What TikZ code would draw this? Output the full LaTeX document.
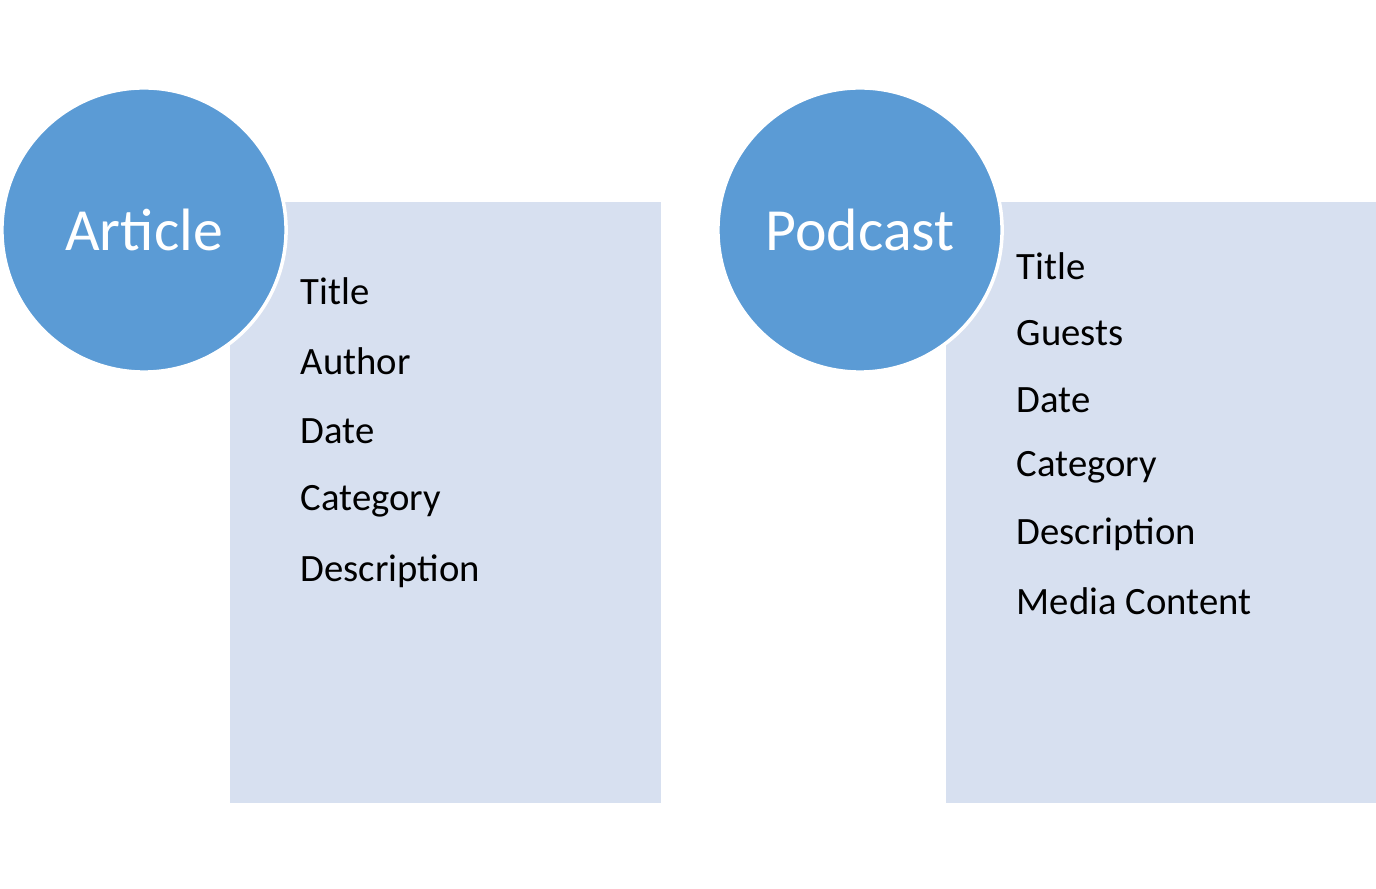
\documentclass[tikz,border=0pt]{standalone}
\usepackage{fontspec}
\setmainfont{Carlito}
\usetikzlibrary{positioning}
\definecolor{circblue}{HTML}{5B9BD5}
\definecolor{panelblue}{HTML}{D7E0F0}
\begin{document}
\begin{tikzpicture}[x=0.01cm,y=-0.01cm,
	panel/.style={fill=panelblue, draw=none, minimum width=4.31cm, minimum height=6.01cm, anchor=north west, inner sep=0pt},
	badge/.style={circle, fill=circblue, draw=white, line width=1pt, minimum size=2.84cm, inner sep=0pt, text=white, font=\fontsize{17}{20}\selectfont},
	item/.style={anchor=west, inner sep=0pt, font=\fontsize{11}{13}\selectfont}]
	
	% Frame
	\useasboundingbox (0,0) rectangle (1376,889);
	
	% Article
	\node[panel] (artpanel) at (229,201) {};
	\node[badge] (article) at (144,230) {Article};
	\foreach \t [count=\i] in {Title,Author,Date,Category,Description}
		\node[item] (art\i) at (300,221+70*\i) {\t};
	
	% Podcast
	\node[panel] (podpanel) at (945,201) {};
	\node[badge] (podcast) at (860,230) {Podcast};
	\foreach \t [count=\i] in {Title,Guests,Date,Category,Description,Media Content}
		\node[item] (pod\i) at (1016,199+67*\i) {\t};
	
\end{tikzpicture}
\end{document}
